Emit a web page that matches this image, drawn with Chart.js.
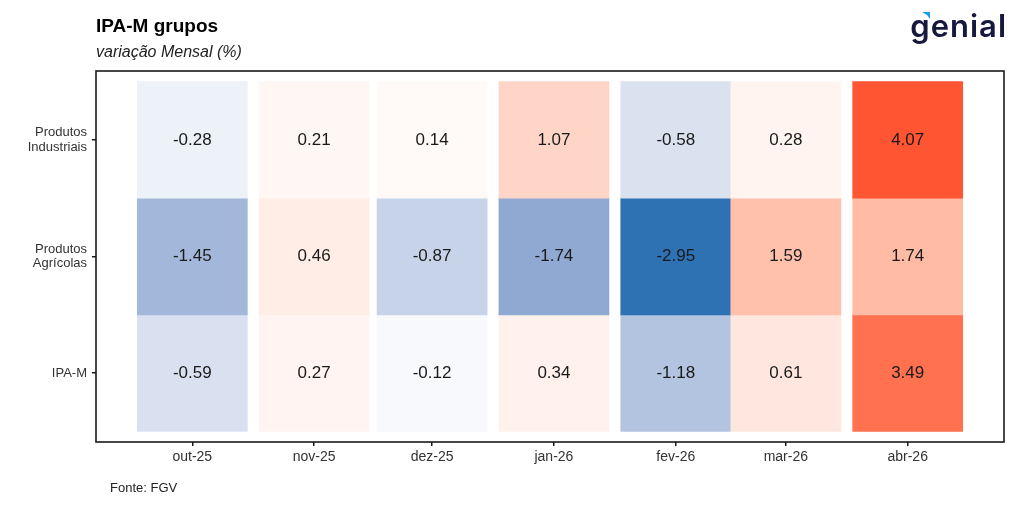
<!DOCTYPE html>
<html lang="pt-BR">
<head>
    <meta charset="UTF-8">
    <title>IPA-M grupos</title>
    <style>
        body { margin: 0; background: #ffffff; }
        #wrap { width: 1024px; height: 512px; }
    </style>
</head>
<body>
    <div id="wrap"><canvas id="heat" width="1024" height="512"></canvas></div>

    <script src="https://cdn.jsdelivr.net/npm/chart.js@4.4.1/dist/chart.umd.min.js"></script>
    <script>
        // dados (FGV, variação mensal %)
        const months = ['out-25', 'nov-25', 'dez-25', 'jan-26', 'fev-26', 'mar-26', 'abr-26'];
        const monthStarts = ['2025-10-01', '2025-11-01', '2025-12-01', '2026-01-01', '2026-02-01', '2026-03-01', '2026-04-01'];
        const rows = ['Produtos Industriais', 'Produtos Agrícolas', 'IPA-M'];
        const industriais = [-0.28, 0.21, 0.14, 1.07, -0.58, 0.28, 4.07];
        const agricolas = [-1.45, 0.46, -0.87, -1.74, -2.95, 1.59, 1.74];
        const ipaM = [-0.59, 0.27, -0.12, 0.34, -1.18, 0.61, 3.49];

        const series = [industriais, agricolas, ipaM];
        const LOW = '#2e72b3', HIGH = '#ff5533';

        // dias desde o primeiro mês -> eixo x contínuo (como datas)
        const t0 = Date.parse(monthStarts[0]);
        const xs = monthStarts.map(d => Math.round((Date.parse(d) - t0) / 864e5));

        // interpolação de cor em Lab (branco no zero)
        function hexToLab(hex) {
            const c = [1, 3, 5].map(i => parseInt(hex.substr(i, 2), 16) / 255)
                .map(v => v <= 0.04045 ? v / 12.92 : Math.pow((v + 0.055) / 1.055, 2.4));
            let x = (c[0] * 0.4124 + c[1] * 0.3576 + c[2] * 0.1805) / 0.95047;
            let y = (c[0] * 0.2126 + c[1] * 0.7152 + c[2] * 0.0722);
            let z = (c[0] * 0.0193 + c[1] * 0.1192 + c[2] * 0.9505) / 1.08883;
            const f = t => t > 0.008856 ? Math.cbrt(t) : 7.787 * t + 16 / 116;
            x = f(x); y = f(y); z = f(z);
            return [116 * y - 16, 500 * (x - y), 200 * (y - z)];
        }
        function labToRgb(lab) {
            let y = (lab[0] + 16) / 116, x = lab[1] / 500 + y, z = y - lab[2] / 200;
            const g = t => t * t * t > 0.008856 ? t * t * t : (t - 16 / 116) / 7.787;
            x = g(x) * 0.95047; y = g(y); z = g(z) * 1.08883;
            let rgb = [
                x * 3.2406 + y * -1.5372 + z * -0.4986,
                x * -0.9689 + y * 1.8758 + z * 0.0415,
                x * 0.0557 + y * -0.2040 + z * 1.0570
            ].map(v => v > 0.0031308 ? 1.055 * Math.pow(v, 1 / 2.4) - 0.055 : 12.92 * v)
             .map(v => Math.round(Math.max(0, Math.min(1, v)) * 255));
            return `rgb(${rgb.join(',')})`;
        }
        const allVals = series.flat();
        const vMin = Math.min(...allVals), vMax = Math.max(...allVals);
        const white = hexToLab('#ffffff'), lowLab = hexToLab(LOW), highLab = hexToLab(HIGH);
        function fillFor(v) {
            const end = v < 0 ? lowLab : highLab;
            const t = v < 0 ? v / vMin : v / vMax;
            return labToRgb(white.map((w, i) => w + (end[i] - w) * t));
        }

        const datasets = series.map((vals, r) => {
            const level = rows.length - 1 - r;
            return {
                label: rows[r],
                data: vals.map((v, i) => ({ x: xs[i], y: [level, level + 1], v })),
                backgroundColor: vals.map(fillFor),
                borderWidth: 0,
                grouped: false,
                barPercentage: 1,
                categoryPercentage: 1
            };
        });

        const FONT = "'Liberation Sans', Arial, sans-serif";

        const cellLabels = {
            id: 'cellLabels',
            afterDatasetsDraw(chart) {
                const ctx = chart.ctx;
                ctx.save();
                ctx.font = `17px ${FONT}`;
                ctx.fillStyle = '#1a1a1a';
                ctx.textAlign = 'center';
                ctx.textBaseline = 'middle';
                chart.data.datasets.forEach((ds, d) => {
                    chart.getDatasetMeta(d).data.forEach((el, i) => {
                        ctx.fillText(ds.data[i].v.toFixed(2), el.x, (el.y + el.base) / 2);
                    });
                });
                ctx.restore();
            }
        };

        const frame = {
            id: 'frame',
            afterDraw(chart) {
                const ctx = chart.ctx;
                const a = chart.chartArea;
                ctx.save();
                ctx.strokeStyle = '#1a1a1a';
                ctx.lineWidth = 1.6;
                ctx.strokeRect(a.left, a.top, a.right - a.left, a.bottom - a.top);

                ctx.fillStyle = '#000';
                ctx.textAlign = 'left';
                ctx.textBaseline = 'alphabetic';
                ctx.font = `bold 19px ${FONT}`;
                ctx.fillText('IPA-M grupos', 96, 32);
                ctx.font = `italic 16px ${FONT}`;
                ctx.fillStyle = '#222';
                ctx.fillText('variação Mensal (%)', 96, 57);
                ctx.font = `13px ${FONT}`;
                ctx.fillText('Fonte: FGV', 110, 492);

                // logo
                ctx.fillStyle = '#16183d';
                ctx.font = "600 31px Inter, 'Noto Sans', sans-serif";
                ctx.letterSpacing = '1px';
                ctx.textAlign = 'right';
                ctx.fillText('genial', 1007, 37);
                ctx.fillStyle = '#1e9be9';
                ctx.beginPath();
                ctx.moveTo(922, 12);
                ctx.lineTo(930, 12);
                ctx.lineTo(930, 19);
                ctx.lineTo(927, 15);
                ctx.closePath();
                ctx.fill();
                ctx.restore();
            }
        };

        new Chart(document.getElementById('heat'), {
            type: 'bar',
            data: { datasets },
            options: {
                responsive: false,
                animation: false,
                layout: { padding: { top: 71, right: 20, left: 0, bottom: 0 } },
                plugins: { legend: { display: false }, tooltip: { enabled: false } },
                scales: {
                    x: {
                        type: 'linear',
                        min: -24.5,
                        max: 206.5,
                        offset: false,
                        afterBuildTicks: s => { s.ticks = xs.map(v => ({ value: v })); },
                        afterFit: s => { s.height = 70; },
                        grid: { display: true, offset: false, drawOnChartArea: false, drawTicks: true, tickLength: 4, color: '#1a1a1a', lineWidth: 1.5 },
                        border: { display: false },
                        ticks: {
                            autoSkip: false,
                            maxRotation: 0,
                            padding: 3,
                            color: '#333',
                            font: { family: FONT, size: 14 },
                            callback: (v, i) => months[i]
                        }
                    },
                    y: {
                        type: 'linear',
                        min: -0.09,
                        max: 3.09,
                        afterBuildTicks: s => { s.ticks = rows.map((r, i) => ({ value: rows.length - 1 - i + 0.5 })); },
                        afterFit: s => { s.width = 96; },
                        grid: { display: true, drawOnChartArea: false, drawTicks: true, tickLength: 4, color: '#1a1a1a', lineWidth: 1.5 },
                        border: { display: false },
                        ticks: {
                            padding: 5,
                            color: '#333',
                            font: { family: FONT, size: 13, lineHeight: 1.1 },
                            callback: (v, i) => rows[i].split(' ')
                        }
                    }
                }
            },
            plugins: [cellLabels, frame]
        });
    </script>
</body>
</html>
